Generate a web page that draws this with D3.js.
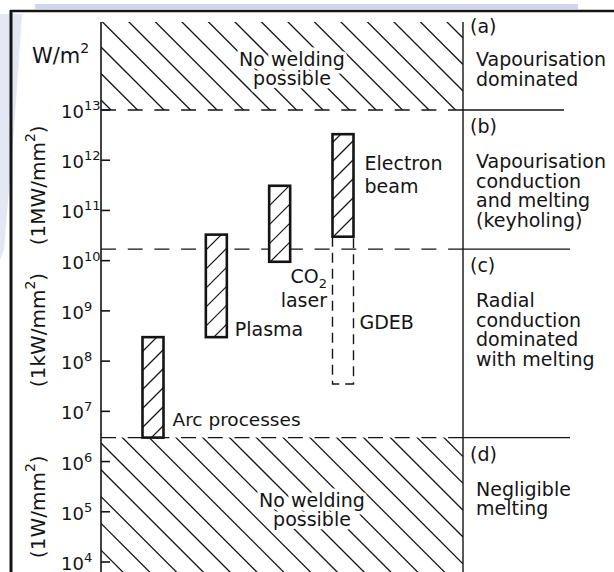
<!DOCTYPE html>
<html><head><meta charset="utf-8">
<script src="https://cdn.jsdelivr.net/npm/d3@7"></script>
<style>
body{margin:0;background:#fff}
svg{display:block}
text{font-family:"DejaVu Sans",sans-serif;fill:#141414}
</style>
</head><body>
<svg id="c" width="614" height="572"></svg>
<script>
// ---------- data ----------
const tickExponents = [4, 5, 6, 7, 8, 9, 10, 11, 12, 13];
const processes   = ["Arc processes", "Plasma", "CO2 laser", "Electron beam"];
const processLow  = [3e6, 3e8, 9.5e9, 3e10];
const processHigh = [3e8, 3.3e10, 3.1e11, 3.3e12];
const gdebRange   = [3.5e7, 3e10];
const regionBounds = [1e13, 1.7e10, 3e6];
const regionTags  = ["(a)", "(b)", "(c)", "(d)"];
const regionText  = [
  ["Vapourisation", "dominated"],
  ["Vapourisation", "conduction", "and melting", "(keyholing)"],
  ["Radial", "conduction", "dominated", "with melting"],
  ["Negligible", "melting"]
];
const unitLabels  = ["(1MW/mm", "(1kW/mm", "(1W/mm"];
const unitCentres = [11.5, 8.62, 5.1];   // exponent at label centre
const hatchLabel  = ["No welding", "possible"];

// ---------- layout ----------
const svg = d3.select("#c");
const W = 614, H = 572;
const axisX = 101, rightX = 463, frameTop = 22;
const y = d3.scaleLog().domain([1e4, 1e13]).range([562, 110]);
const x = d3.scalePoint().domain(processes).range([153, 343]);
const barW = 21;
const ink = "#141414";

// watermark traces
svg.append("polygon").attr("points", "0,14 22,14 14,130 4,250 0,260").attr("fill", "#e3e7f4");
svg.append("rect").attr("x", 35).attr("y", 4).attr("width", 543).attr("height", 5).attr("fill", "#cfd6ed");

// frame
svg.append("line").attr("x1", 10).attr("x2", W).attr("y1", 11).attr("y2", 11).attr("stroke", ink).attr("stroke-width", 2.5);
svg.append("line").attr("x1", 11).attr("x2", 11).attr("y1", 10).attr("y2", H).attr("stroke", ink).attr("stroke-width", 3);

const defs = svg.append("defs");
let clipId = 0;
function hatch(x0, y0, x1, y1, spacing, dir, phase, width) {
  const id = "clip" + (clipId++);
  defs.append("clipPath").attr("id", id).append("rect")
    .attr("x", x0).attr("y", y0).attr("width", x1 - x0).attr("height", y1 - y0);
  const g = svg.append("g").attr("clip-path", `url(#${id})`);
  const lines = [];
  if (dir < 0) { // "\" : y = x + b
    const bMin = y0 - x1, bMax = y1 - x0;
    for (let b = bMin + (((phase - bMin) % spacing) + spacing) % spacing; b <= bMax; b += spacing) lines.push([x0, x0 + b, x1, x1 + b]);
  } else {       // "/" : y = -x + b
    const bMin = y0 + x0, bMax = y1 + x1;
    for (let b = bMin + (((phase - bMin) % spacing) + spacing) % spacing; b <= bMax; b += spacing) lines.push([x0, -x0 + b, x1, -x1 + b]);
  }
  g.selectAll("line").data(lines).join("line")
    .attr("x1", d => d[0]).attr("y1", d => d[1]).attr("x2", d => d[2]).attr("y2", d => d[3])
    .attr("stroke", ink).attr("stroke-width", width);
}

// hatched "no welding" regions
hatch(axisX, frameTop, rightX, y(regionBounds[0]), 26.5, -1, -1, 1.3);
hatch(axisX, y(regionBounds[2]), rightX, H, 26.8, -1, 342, 1.3);

// hatch labels with white halo
function hatchText(cx, baseline) {
  hatchLabel.forEach((t, i) => {
    svg.append("text").attr("x", cx).attr("y", baseline + i * 19).attr("text-anchor", "middle")
      .attr("font-size", 19).attr("stroke", "#fff").attr("stroke-width", 7)
      .attr("paint-order", "stroke").attr("stroke-linejoin", "round").text(t);
  });
}
hatchText(292, 66);
hatchText(312, 507);

// axis line and ticks
svg.append("line").attr("x1", axisX).attr("x2", axisX).attr("y1", frameTop).attr("y2", H).attr("stroke", ink).attr("stroke-width", 1.6);
const ticks = svg.append("g");
tickExponents.forEach(e => {
  const ty = y(Math.pow(10, e));
  ticks.append("line").attr("x1", axisX).attr("x2", axisX + 9).attr("y1", ty).attr("y2", ty).attr("stroke", ink).attr("stroke-width", 1.6);
  const t = ticks.append("text").attr("x", 61).attr("y", ty + 8).attr("font-size", 18);
  t.append("tspan").text("10");
  t.append("tspan").attr("font-size", 13).attr("dy", -8).text(e);
});

// unit labels
const wm = svg.append("text").attr("x", 32).attr("y", 63).attr("font-size", 21);
wm.append("tspan").text("W/m");
wm.append("tspan").attr("font-size", 14).attr("dy", -10).text("2");
unitLabels.forEach((u, i) => {
  const cy = y(Math.pow(10, unitCentres[i]));
  const t = svg.append("text").attr("transform", `translate(45,${cy}) rotate(-90)`)
    .attr("text-anchor", "middle").attr("font-size", 20);
  t.append("tspan").text(u);
  t.append("tspan").attr("font-size", 14).attr("dy", -10).text("2");
  t.append("tspan").attr("dy", 10).text(")");
});

// region boundaries: dashed across plot, solid on the right
regionBounds.forEach((b, i) => {
  const by = y(b);
  svg.append("line").attr("x1", axisX).attr("x2", rightX).attr("y1", by).attr("y2", by)
    .attr("stroke", ink).attr("stroke-width", 1.4).attr("stroke-dasharray", "15,11.7");
  svg.append("line").attr("x1", rightX).attr("x2", i === 0 ? 564 : 570).attr("y1", by).attr("y2", by)
    .attr("stroke", ink).attr("stroke-width", 1.4);
});
svg.append("line").attr("x1", rightX).attr("x2", rightX).attr("y1", frameTop).attr("y2", H).attr("stroke", ink).attr("stroke-width", 1.4);

// region descriptions
const regionTops = [frameTop].concat(regionBounds.map(b => y(b)));
regionTags.forEach((tag, i) => {
  const tagY = regionTops[i] + (i === 0 ? 11 : 23);
  svg.append("text").attr("x", 470).attr("y", tagY).attr("font-size", 19).text(tag);
  regionText[i].forEach((line, j) => {
    svg.append("text").attr("x", 476).attr("y", tagY + (i === 0 ? 33 : 35) + j * 19.5).attr("font-size", 19).text(line);
  });
});

// GDEB dashed bar
const gx = x("Electron beam") - barW / 2;
svg.append("path")
  .attr("d", `M${gx},${y(gdebRange[1])}V${y(gdebRange[0])}H${gx + barW}V${y(gdebRange[1])}`)
  .attr("fill", "none").attr("stroke", ink).attr("stroke-width", 1.4).attr("stroke-dasharray", "10,6");

// process bars
processes.forEach((p, i) => {
  const bx = x(p) - barW / 2, top = y(processHigh[i]), bot = y(processLow[i]);
  svg.append("rect").attr("x", bx).attr("y", top).attr("width", barW).attr("height", bot - top).attr("fill", "#fff");
  hatch(bx, top, bx + barW, bot, 19, 1, 0, 1.2);
  svg.append("rect").attr("x", bx).attr("y", top).attr("width", barW).attr("height", bot - top)
    .attr("fill", "none").attr("stroke", ink).attr("stroke-width", 2.6);
});

// process labels
const right = p => x(p) + barW / 2;
svg.append("text").attr("x", right("Arc processes") + 9).attr("y", y(processLow[0]) - 12).attr("font-size", 18.5).text("Arc processes");
svg.append("text").attr("x", right("Plasma") + 8).attr("y", y(processLow[1]) - 1).attr("font-size", 19).text("Plasma");
const co = svg.append("text").attr("x", 327).attr("y", y(processLow[2]) + 21).attr("font-size", 19).attr("text-anchor", "end");
co.append("tspan").text("CO");
co.append("tspan").attr("font-size", 13).attr("dy", 5).text("2");
svg.append("text").attr("x", 327).attr("y", y(processLow[2]) + 45).attr("font-size", 19).attr("text-anchor", "end").text("laser");
svg.append("text").attr("x", right("Electron beam") + 11).attr("y", 170).attr("font-size", 19).text("Electron");
svg.append("text").attr("x", right("Electron beam") + 11).attr("y", 193).attr("font-size", 19).text("beam");
svg.append("text").attr("x", right("Electron beam") + 6).attr("y", 329).attr("font-size", 19).text("GDEB");
</script>
</body></html>
